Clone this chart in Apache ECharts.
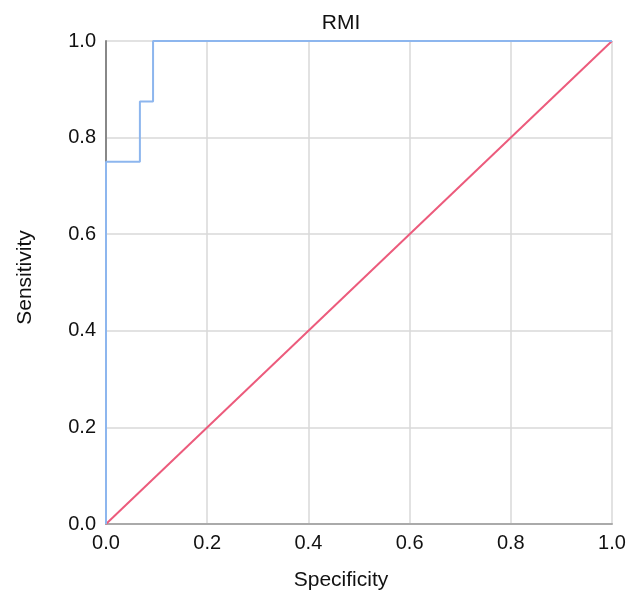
<!DOCTYPE html>
<html>
<head>
<meta charset="utf-8">
<script src="https://cdn.jsdelivr.net/npm/echarts@6/dist/echarts.min.js"></script>
<style>html,body{margin:0;padding:0;background:#fff}#c{width:637px;height:591px}</style>
</head>
<body>
<div id="c"></div>
<script>
var titleText = "RMI";
var xName = "Specificity";
var yName = "Sensitivity";
var rocX = [0, 0, 0.067, 0.067, 0.093, 0.093, 1];
var rocY = [0, 0.75, 0.75, 0.875, 0.875, 1, 1];
var refX = [0, 1];
var refY = [0, 1];

var font = "'Liberation Sans', Arial, Helvetica, sans-serif";
var chart = echarts.init(document.getElementById('c'));
function pairs(xs, ys){ return xs.map(function(x,i){return [x, ys[i]];}); }
chart.setOption({
  animation: false,
  title: { text: titleText, left: 336, top: 8, textAlign: 'center',
    textStyle: { fontFamily: font, fontSize: 21, fontWeight: 'normal', color: '#111' } },
  grid: { left: 106, right: 25, top: 41, bottom: 67, containLabel: false, outerBoundsMode: 'none' },
  xAxis: {
    type: 'value', min: 0, max: 1, interval: 0.2,
    name: xName, nameLocation: 'middle', nameGap: 46,
    nameTextStyle: { fontFamily: font, fontSize: 21, color: '#111', padding: [0, 36, 0, 0] },
    axisLine: { show: true, lineStyle: { color: '#aaa', width: 2 } },
    axisTick: { show: false },
    axisLabel: { fontFamily: font, fontSize: 20, color: '#111', margin: 9, formatter: function(v){return v.toFixed(1);} },
    splitLine: { show: true, lineStyle: { color: '#d8d8d8', width: 1.5 } }
  },
  yAxis: {
    type: 'value', min: 0, max: 1, interval: 0.2,
    name: yName, nameLocation: 'middle', nameGap: 70,
    nameTextStyle: { fontFamily: font, fontSize: 21, color: '#111', padding: [0, 0, 0, 10] },
    axisLine: { show: true, lineStyle: { color: '#888', width: 2 } },
    axisTick: { show: false },
    axisLabel: { fontFamily: font, fontSize: 20, color: '#111', margin: 10, formatter: function(v){return v.toFixed(1);} },
    splitLine: { show: true, lineStyle: { color: '#d8d8d8', width: 1.5 } }
  },
  series: [
    { type: 'line', data: pairs(refX, refY), showSymbol: false, symbol: 'none',
      lineStyle: { color: '#ec5b7c', width: 2 }, z: 3 },
    { type: 'line', data: pairs(rocX, rocY), showSymbol: false, symbol: 'none',
      lineStyle: { color: '#8db6ee', width: 2 }, z: 4 }
  ]
});
</script>
</body>
</html>
